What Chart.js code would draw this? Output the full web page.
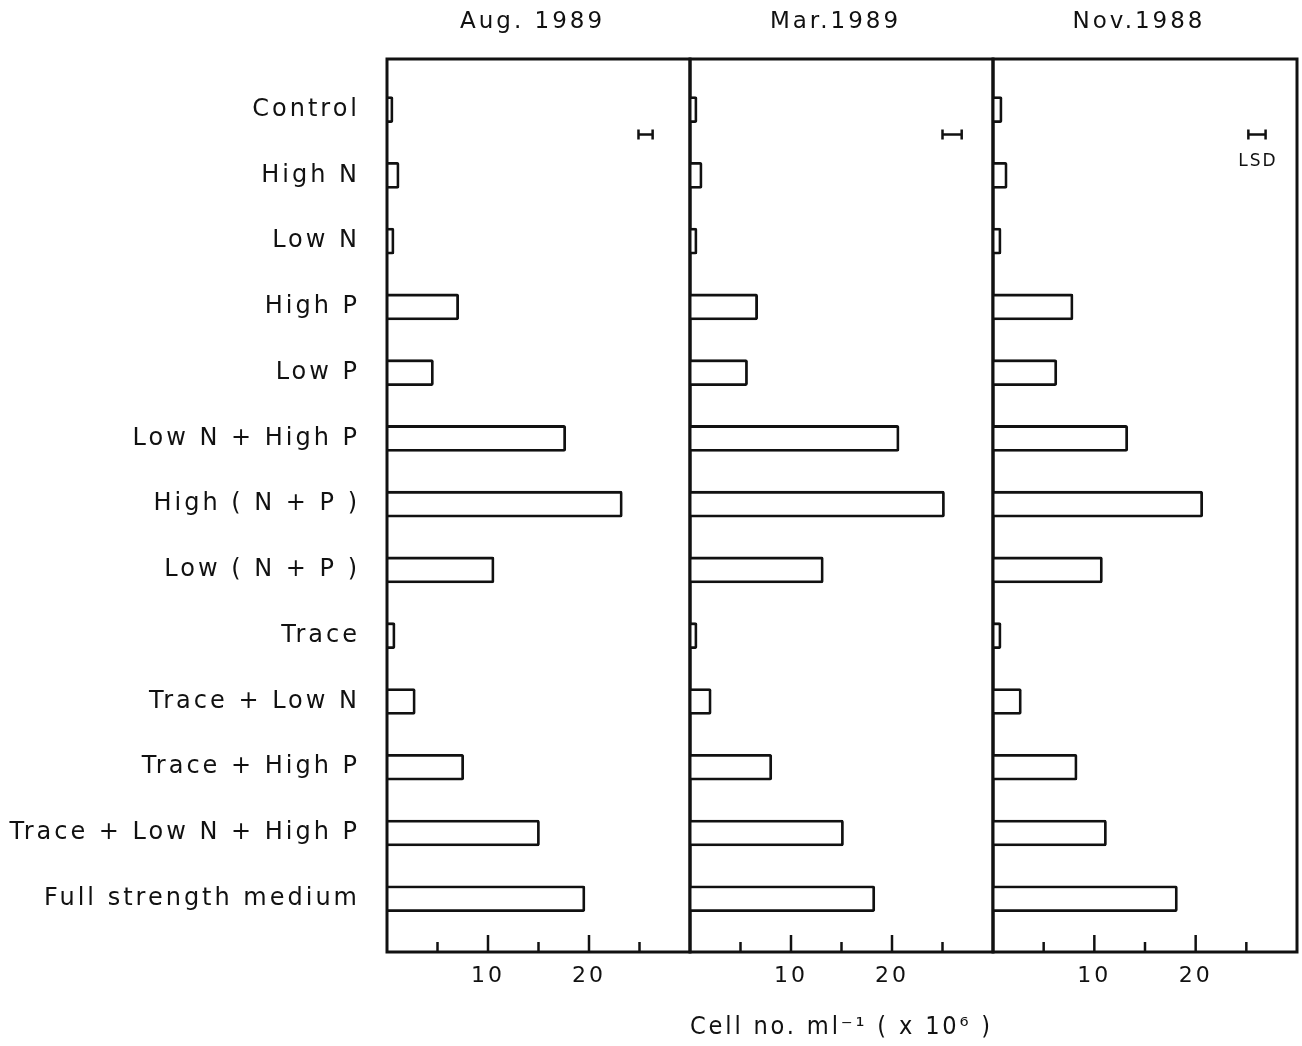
<!DOCTYPE html>
<html lang="en">
<head>
  <meta charset="UTF-8" />
  <title>Cell numbers by treatment</title>
  <style>
    html, body { margin: 0; padding: 0; background: #fff; overflow: hidden; }
    #wrap { position: relative; width: 1302px; height: 1046px; background: #fff; }
    canvas { position: absolute; top: 0; }
  </style>
</head>
<body>
  <div id="wrap">
    <canvas id="c1" width="700" height="1046" style="left:0px"></canvas>
    <canvas id="c2" width="323" height="1046" style="left:680px"></canvas>
    <canvas id="c3" width="319" height="1046" style="left:983px"></canvas>
  </div>

  <script src="https://cdn.jsdelivr.net/npm/chart.js"></script>
  <script>
    // treatments, top to bottom
    const treatments = [
      'Control', 'High N', 'Low N', 'High P', 'Low P', 'Low N + High P',
      'High ( N + P )', 'Low ( N + P )', 'Trace', 'Trace + Low N',
      'Trace + High P', 'Trace + Low N + High P', 'Full strength medium'
    ];
    const periods = ['Aug. 1989', 'Mar.1989', 'Nov.1988'];

    // cell no. ml-1 (x10^6)
    const aug1989 = [0.6, 1.2, 0.7, 7.1, 4.6, 17.7, 23.3, 10.6, 0.8, 2.8, 7.6, 15.1, 19.6];
    const mar1989 = [0.7, 1.2, 0.7, 6.7, 5.7, 20.7, 25.2, 13.2, 0.7, 2.1, 8.1, 15.2, 18.3];
    const nov1988 = [0.9, 1.4, 0.8, 7.9, 6.3, 13.3, 20.7, 10.8, 0.8, 2.8, 8.3, 11.2, 18.2];

    // LSD bar in each panel (from, to) and the row it sits on
    const lsdRanges = [[24.9, 26.3], [25.0, 26.9], [25.2, 26.9]];
    const lsdRow = 0.38;

    const xTickLabels = [10, 20];

    const ink = '#111';
    const family = '"DejaVu Sans", sans-serif';

    // box, inward ticks, LSD mark and panel title
    const frame = {
      id: 'frame',
      beforeLayout(chart) { chart.ctx.letterSpacing = '3px'; },
      beforeDraw(chart) { chart.ctx.letterSpacing = '3px'; },
      afterDatasetsDraw(chart, args, opts) {
        const { ctx, chartArea: a, scales: { x, y } } = chart;
        ctx.save();
        ctx.strokeStyle = ink;
        ctx.lineWidth = 3;
        ctx.strokeRect(a.left, a.top, a.right - a.left, a.bottom - a.top);

        ctx.lineWidth = 2.5;
        x.ticks.forEach(t => {
          if (t.value <= x.min || t.value >= x.max) return;
          const px = x.getPixelForValue(t.value);
          const len = t.value % 10 === 0 ? 17 : 10;
          ctx.beginPath();
          ctx.moveTo(px, a.bottom);
          ctx.lineTo(px, a.bottom - len);
          ctx.stroke();
        });

        const x0 = x.getPixelForValue(opts.lsd[0]);
        const x1 = x.getPixelForValue(opts.lsd[1]);
        const py = y.getPixelForValue(lsdRow);
        ctx.lineWidth = 2.5;
        ctx.beginPath();
        ctx.moveTo(x0, py); ctx.lineTo(x1, py);
        ctx.moveTo(x0, py - 5); ctx.lineTo(x0, py + 5);
        ctx.moveTo(x1, py - 5); ctx.lineTo(x1, py + 5);
        ctx.stroke();

        ctx.fillStyle = ink;
        if (opts.lsdLabel) {
          ctx.font = '17px ' + family;
          ctx.letterSpacing = '2px';
          ctx.textAlign = 'center';
          ctx.textBaseline = 'top';
          ctx.fillText('LSD', (x0 + x1) / 2 + 1, py + 18);
          ctx.letterSpacing = '3px';
        }

        ctx.font = '23px ' + family;
        ctx.textAlign = 'center';
        ctx.textBaseline = 'middle';
        ctx.fillText(opts.title, (a.left + a.right) / 2 - 6, 22);
        ctx.restore();
      }
    };

    function makeChart(id, values, idx, cfg) {
      return new Chart(document.getElementById(id), {
        type: 'bar',
        data: {
          datasets: [{
            data: values.map((v, i) => ({ x: v, y: i })),
            backgroundColor: '#fff',
            borderColor: ink,
            borderWidth: 2.8,
            borderRadius: 2,
            barThickness: 26
          }]
        },
        options: {
          indexAxis: 'y',
          responsive: false,
          animation: false,
          layout: { padding: cfg.padding },
          scales: {
            x: {
              type: 'linear',
              min: 0,
              max: 30,
              afterFit: s => { s.height = 94; s.paddingLeft = 0; s.paddingRight = 0; },
              grid: { display: false, drawTicks: false },
              border: { display: false },
              ticks: {
                stepSize: 5,
                padding: 11,
                color: ink,
                font: { family, size: 22 },
                callback: v => xTickLabels.includes(v) ? String(v) : ''
              },
              title: {
                display: !!cfg.xTitle,
                text: cfg.xTitle || '',
                color: ink,
                font: { family, size: 24 },
                padding: { top: 0, bottom: 4 }
              }
            },
            y: {
              type: 'linear',
              reverse: true,
              offset: false,
              min: -0.77,
              max: 12.81,
              display: !!cfg.showLabels,
              afterBuildTicks: s => { s.ticks = treatments.map((_, i) => ({ value: i })); },
              afterFit: s => { if (cfg.showLabels) s.width = 387; },
              grid: { display: false, drawTicks: false },
              border: { display: false },
              ticks: {
                padding: 27,
                color: ink,
                font: { family, size: 24 },
                callback: v => treatments[v] ?? ''
              }
            }
          },
          plugins: {
            legend: { display: false },
            tooltip: { enabled: false },
            frame: { title: periods[idx], lsd: lsdRanges[idx], lsdLabel: !!cfg.lsdLabel }
          }
        },
        plugins: [frame]
      });
    }

    makeChart('c1', aug1989, 0, { showLabels: true, padding: { top: 59, right: 10, left: 0, bottom: 0 } });
    makeChart('c2', mar1989, 1, {
      xTitle: 'Cell no. ml\u207B\u00B9 ( x 10\u2076 )',
      padding: { top: 59, right: 10, left: 10, bottom: 0 }
    });
    makeChart('c3', nov1988, 2, { lsdLabel: true, padding: { top: 59, right: 5, left: 10, bottom: 0 } });
  </script>
</body>
</html>
